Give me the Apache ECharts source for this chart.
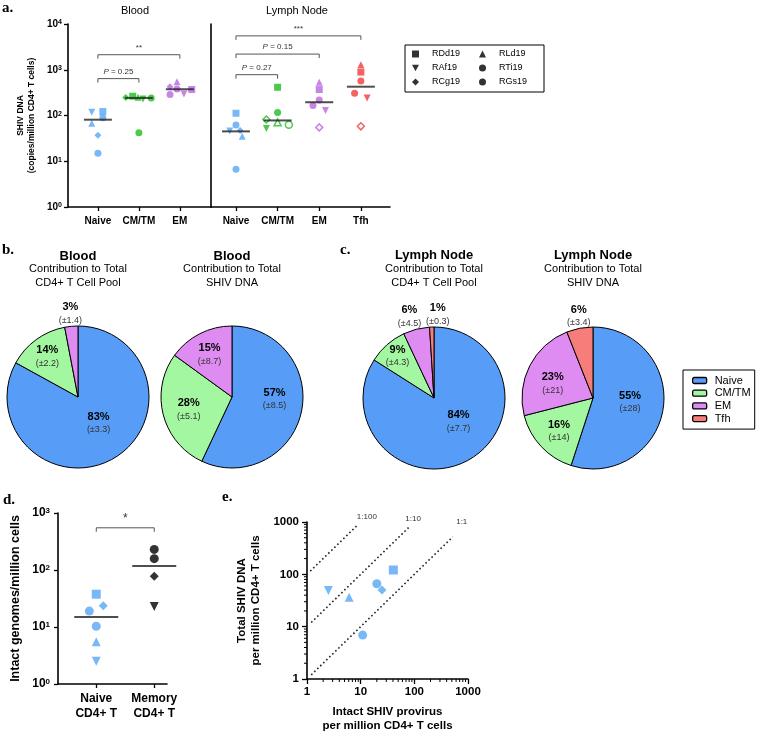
<!DOCTYPE html>
<html>
<head>
<meta charset="utf-8">
<title>SHIV DNA in CD4+ T cell subsets</title>
<script src="https://cdn.jsdelivr.net/npm/echarts@6.0.0/dist/echarts.min.js"></script>
<style>
  html, body { margin: 0; padding: 0; background: #fff; }
  #chart { width: 760px; height: 736px; }
</style>
</head>
<body>
<div id="chart"></div>
<script>
// animals, every per-animal array below follows this order
const animals = ['RDd19', 'RAf19', 'RCg19', 'RLd19', 'RTi19', 'RGs19'];
const animalSymbols = ['rect', 'path://M0,0L10,0L5,9Z', 'diamond', 'triangle', 'circle', 'circle'];

// panel a: SHIV DNA copies / million CD4+ T cells
const bloodCats = ['Naive', 'CM/TM', 'EM'];
const lnCats = ['Naive', 'CM/TM', 'EM', 'Tfh'];
const bloodNaive = [122, 118, 37, 68, 89, 15];
const bloodCmtm = [264, 230, 246, 250, 240, 42];
const bloodEm = [370, 296, 427, 550, 380, 286];
const lnNaive = [112, 46, 47, 35, 62, 6.7];
const lnCmtm = [414, 52, 82, 71, 116, 63];
const lnEm = [369, 129, 55, 530, 219, 166];
const lnTfh = [889, 242, 58, 1290, 570, 305];
const lnCmtmOpen = [0, 0, 1, 1, 0, 1];
const lnEmOpen = [0, 0, 1, 0, 0, 0];
const lnTfhOpen = [0, 0, 1, 0, 0, 0];
const bloodMedian = [81, 242, 375];
const lnMedian = [45, 78, 195, 426];
const bloodBrackets = [[0, 1, 640], [0, 2, 2130]];
const bloodBracketText = ['{i|P} = 0.25', '**'];
const lnBrackets = [[0, 1, 780], [0, 2, 2200], [0, 3, 5500]];
const lnBracketText = ['{i|P} = 0.27', '{i|P} = 0.15', '***'];

// panels b, c: % contribution (mean, sd)
const pieCats = ['Naive', 'CM/TM', 'EM', 'Tfh'];
const bloodPoolPct = [83, 14, 3];
const bloodPoolSd = ['3.3', '2.2', '1.4'];
const bloodDnaPct = [57, 28, 15];
const bloodDnaSd = ['8.5', '5.1', '8.7'];
const lnPoolPct = [84, 9, 6, 1];
const lnPoolSd = ['7.7', '4.3', '4.5', '0.3'];
const lnDnaPct = [55, 16, 23, 6];
const lnDnaSd = ['28', '14', '21', '3.4'];

// panel d: intact genomes / million cells
const intactCats = ['Naive\nCD4+ T', 'Memory\nCD4+ T'];
const intactNaive = [37.6, 2.5, 23.6, 5.5, 19, 10.3];
const intactMemory = [null, 23, 78, null, 230, 158];
const intactMedian = [15, 117];
const intactBrackets = [[0, 1, 550]];
const intactBracketText = ['*'];

// panel e: intact provirus vs total SHIV DNA (naive, lymph node)
const intactProvirus = [40.6, 2.5, 25, 6.1, 20, 10.9];
const totalShivDna = [121, 49, 50, 36.5, 66, 6.9];
const ratioLabels = ['1:100', '1:10', '1:1'];
const ratio100 = [[1.15, 115], [8.5, 850]];
const ratio10 = [[1.2, 12], [80, 800]];
const ratio1 = [[1.2, 1.2], [520, 520]];
const logMinorTicks = [2, 3, 4, 5, 6, 7, 8, 9, 20, 30, 40, 50, 60, 70, 80, 90, 200, 300, 400, 500, 600, 700, 800, 900];

// styling
const sans = 'Arial, "Liberation Sans", Helvetica, sans-serif';
const serif = '"Liberation Serif", "Times New Roman", Times, serif';
const pointColors = ['#58a6f4', '#1fbd1f', '#b967e0', '#f23b3b'];
const sliceColors = ['#579df7', '#a3f7a0', '#df8cf2', '#f77d7a'];
// small jitter of points around each category centre (category units)
const bloodJitter = [
  [0.12, -0.15, 0, -0.15, 0.12, 0],
  [-0.15, 0.1, -0.32, -0.02, 0.3, 0],
  [0.29, 0.1, -0.24, -0.07, -0.07, -0.24]
];
const lnJitter = [
  [0, -0.15, 0.1, 0.15, 0, 0],
  [0, -0.27, -0.27, 0, 0, 0.27],
  [0, 0.15, 0, 0, 0, -0.15],
  [0, 0.15, 0, 0, 0, -0.15]
];
const intactJitter = [[0, 0, 0.12, 0, -0.12, 0], [0, 0, 0, 0, 0, 0]];
const pieShift = {
  bloodPool: [[1, -7], [-8, -9], [-4, -45]],
  bloodDna: [[5, -6], [-6, 3], [-5, -8]],
  lnPool: [[6, -10], [-11, -13], [-15, -44], [5, -45]],
  lnDna: [[-1, -2], [-6, 7], [-6, 3], [-7, -44]]
};
const ratioLabelOffset = [[10, 0], [4, 0], [9, -7]];

const supRich = { s: { fontSize: 7, fontWeight: 'bold', fontFamily: sans, verticalAlign: 'top', lineHeight: 9 } };
const logLabel = v => '10{s|' + Math.round(Math.log10(v)) + '}';

function line(w) { return { show: true, onZero: false, lineStyle: { color: '#000', width: w || 1.6 } }; }
function labelStyle(size, extra) {
  return Object.assign({ color: '#000', fontFamily: sans, fontWeight: 'bold', fontSize: size }, extra || {});
}
function catAxis(grid, cats, min, max, size, margin) {
  const idx = cats.map((c, i) => i);
  return {
    gridIndex: grid, type: 'value', min: min, max: max,
    axisLine: line(), splitLine: { show: false },
    axisTick: { show: true, length: 4, customValues: idx, lineStyle: { color: '#000', width: 1.3 } },
    axisLabel: labelStyle(size, { customValues: idx, margin: margin, lineHeight: size + 3, formatter: v => cats[Math.round(v)] })
  };
}
function logAxis(grid, max, opts) {
  return Object.assign({
    gridIndex: grid, type: 'log', logBase: 10, min: 1, max: max,
    axisLine: line(), splitLine: { show: false },
    axisTick: { show: true, length: 4, lineStyle: { color: '#000', width: 1.3 } }
  }, opts);
}

function pointItem(x, y, color, open) {
  return {
    value: [x, y],
    itemStyle: open ? { color: '#fff', borderColor: color, borderWidth: 1.5 } : { color: color, borderWidth: 0 }
  };
}

const series = [];
animals.forEach((name, i) => {
  const sym = animalSymbols[i];
  const bloodGroups = [bloodNaive, bloodCmtm, bloodEm];
  series.push({
    type: 'scatter', name: name, xAxisIndex: 0, yAxisIndex: 0, symbol: sym, symbolSize: 7, z: 3,
    data: bloodGroups.map((g, c) => pointItem(c + bloodJitter[c][i], g[i], pointColors[c], false))
  });
  const lnGroups = [lnNaive, lnCmtm, lnEm, lnTfh];
  const lnOpen = [[0, 0, 0, 0, 0, 0], lnCmtmOpen, lnEmOpen, lnTfhOpen];
  series.push({
    type: 'scatter', name: name, xAxisIndex: 1, yAxisIndex: 1, symbol: sym, symbolSize: 7, z: 3,
    data: lnGroups.map((g, c) => pointItem(c + lnJitter[c][i], g[i], pointColors[c], lnOpen[c][i]))
  });
  const intactGroups = [intactNaive, intactMemory];
  series.push({
    type: 'scatter', name: name, xAxisIndex: 2, yAxisIndex: 2, symbol: sym, symbolSize: 9, z: 3,
    data: intactGroups.filter(g => g[i] != null).map(g => {
      const c = intactGroups.indexOf(g);
      return pointItem(c + intactJitter[c][i], g[i], c === 0 ? pointColors[0] : '#000', false);
    })
  });
  series.push({
    type: 'scatter', name: name, xAxisIndex: 3, yAxisIndex: 3, symbol: sym, symbolSize: 9, z: 3,
    data: [pointItem(intactProvirus[i], totalShivDna[i], pointColors[0], false)]
  });
});

function medianSeries(grid, vals, width) {
  return {
    type: 'scatter', xAxisIndex: grid, yAxisIndex: grid, symbol: 'rect', symbolSize: [width, 2], z: 4,
    itemStyle: { color: '#222' }, silent: true,
    data: vals.map((m, c) => [c, m])
  };
}
series.push(medianSeries(0, bloodMedian, 28), medianSeries(1, lnMedian, 28), medianSeries(2, intactMedian, 44));

function bracketSeries(grid, rows, texts, size) {
  return {
    type: 'custom', xAxisIndex: grid, yAxisIndex: grid, clip: false, silent: true, z: 5,
    data: rows,
    renderItem: (params, api) => {
      const a = api.coord([api.value(0), api.value(2)]);
      const b = api.coord([api.value(1), api.value(2)]);
      return {
        type: 'group', children: [
          { type: 'polyline', shape: { points: [[a[0], a[1] + 4], [a[0], a[1]], [b[0], b[1]], [b[0], b[1] + 4]] },
            style: { stroke: '#555', lineWidth: 1, fill: null } },
          { type: 'text', style: {
              x: (a[0] + b[0]) / 2, y: a[1] - 3, text: texts[params.dataIndex],
              align: 'center', verticalAlign: 'bottom', textAlign: 'center', textVerticalAlign: 'bottom',
              font: size + 'px ' + sans, fill: '#333',
              rich: { i: { fontStyle: 'italic', fontSize: size, fontFamily: sans, fill: '#333' } } } }
        ]
      };
    }
  };
}
series.push(bracketSeries(0, bloodBrackets, bloodBracketText, 8));
series.push(bracketSeries(1, lnBrackets, lnBracketText, 8));
series.push(bracketSeries(2, intactBrackets, intactBracketText, 12));

// panel e: minor log ticks on both axes
series.push({
  type: 'custom', xAxisIndex: 3, yAxisIndex: 3, clip: false, silent: true, z: 2,
  data: logMinorTicks.map(v => [v, v]),
  renderItem: (params, api) => {
    const v = api.value(0);
    const px = api.coord([v, 1]);
    const py = api.coord([1, v]);
    return {
      type: 'group', children: [
        { type: 'line', shape: { x1: px[0], y1: px[1], x2: px[0], y2: px[1] + 3 }, style: { stroke: '#000', lineWidth: 1 } },
        { type: 'line', shape: { x1: py[0], y1: py[1], x2: py[0] - 3, y2: py[1] }, style: { stroke: '#000', lineWidth: 1 } }
      ]
    };
  }
});

[ratio100, ratio10, ratio1].forEach((pts, k) => {
  series.push({
    type: 'line', xAxisIndex: 3, yAxisIndex: 3, silent: true, z: 1,
    showSymbol: true, symbol: 'circle', symbolSize: 1, itemStyle: { color: 'rgba(0,0,0,0)' },
    lineStyle: { color: '#222', width: 1.6, type: [1.6, 2.6] },
    data: pts.map((p, j) => j === pts.length - 1 ? {
      value: p,
      label: { show: true, position: 'top', distance: 4, offset: ratioLabelOffset[k], formatter: ratioLabels[k],
               fontSize: 8, fontFamily: sans, color: '#333' }
    } : { value: p })
  });
});

function pieSeries(center, pct, sd, shift) {
  return {
    type: 'pie', center: center, radius: 71, startAngle: 90, clockwise: true, silent: true,
    avoidLabelOverlap: false,
    itemStyle: { borderColor: '#000', borderWidth: 1 },
    label: {
      show: true, position: 'inside',
      formatter: p => '{p|' + p.value + '%}\n{e|(±' + sd[p.dataIndex] + ')}',
      rich: {
        p: { fontSize: 11, fontWeight: 'bold', color: '#000', fontFamily: sans, lineHeight: 13, align: 'center' },
        e: { fontSize: 9, color: '#333', fontFamily: sans, lineHeight: 13, align: 'center' }
      }
    },
    labelLine: { show: false },
    labelLayout: p => ({ dx: shift[p.dataIndex][0], dy: shift[p.dataIndex][1] }),
    data: pct.map((v, i) => ({ name: pieCats[i], value: v, itemStyle: { color: sliceColors[i] } }))
  };
}
series.push(pieSeries([78, 397], bloodPoolPct, bloodPoolSd, pieShift.bloodPool));
series.push(pieSeries([232, 397], bloodDnaPct, bloodDnaSd, pieShift.bloodDna));
series.push(pieSeries([434, 398], lnPoolPct, lnPoolSd, pieShift.lnPool));
series.push(pieSeries([593, 398], lnDnaPct, lnDnaSd, pieShift.lnDna));

function txt(x, y, text, size, weight, family, align) {
  return {
    type: 'text', x: x, y: y, silent: true,
    style: { text: text, font: weight + ' ' + size + 'px ' + family, fill: '#000',
             align: align, verticalAlign: 'middle', textAlign: align, textVerticalAlign: 'middle' }
  };
}

const option = {
  animation: false,
  backgroundColor: '#fff',
  textStyle: { fontFamily: sans },
  grid: [
    { left: 68, top: 24, width: 143, height: 183, outerBoundsMode: 'none' },
    { left: 211, top: 24, width: 179, height: 183, outerBoundsMode: 'none' },
    { left: 58, top: 513, width: 109, height: 171, outerBoundsMode: 'none' },
    { left: 307, top: 522, width: 161, height: 157, outerBoundsMode: 'none' }
  ],
  xAxis: [
    catAxis(0, bloodCats, -0.73, 2.76, 10, 8),
    catAxis(1, lnCats, -0.6, 3.7, 10, 8),
    catAxis(2, intactCats, -0.66, 1.22, 12, 7),
    logAxis(3, 1000, {
      axisTick: { show: true, length: 5, lineStyle: { color: '#000', width: 1.3 } },
      axisLabel: labelStyle(11.5, { margin: 7, formatter: v => String(v) }),
      name: 'Intact SHIV provirus\nper million CD4+ T cells', nameLocation: 'middle', nameGap: 26,
      nameTextStyle: labelStyle(11.5, { lineHeight: 14 })
    })
  ],
  yAxis: [
    logAxis(0, 10000, {
      axisLabel: labelStyle(10, { margin: 6, formatter: logLabel, rich: supRich }),
      name: 'SHIV DNA\n(copies/million CD4+ T cells)', nameLocation: 'middle', nameGap: 31,
      nameTextStyle: labelStyle(8.5, { lineHeight: 11 })
    }),
    logAxis(1, 10000, { axisTick: { show: false }, axisLabel: { show: false } }),
    logAxis(2, 1000, {
      axisLabel: labelStyle(12, { margin: 8, formatter: logLabel, rich: { s: Object.assign({}, supRich.s, { fontSize: 8, lineHeight: 10 }) } }),
      name: 'Intact genomes/million cells', nameLocation: 'middle', nameGap: 36,
      nameTextStyle: labelStyle(12.5)
    }),
    logAxis(3, 1000, {
      axisTick: { show: true, length: 5, lineStyle: { color: '#000', width: 1.3 } },
      axisLabel: labelStyle(11.5, { margin: 8, formatter: v => String(v) }),
      name: 'Total SHIV DNA\nper million CD4+ T cells', nameLocation: 'middle', nameGap: 44,
      nameTextStyle: labelStyle(11.5, { lineHeight: 14 })
    })
  ],
  legend: [
    {
      data: animals.map((a, i) => ({ name: a, icon: animalSymbols[i] })),
      left: 405, top: 45, orient: 'vertical', height: 40, selectedMode: false,
      itemWidth: 7, itemHeight: 7, itemGap: 4,
      itemStyle: { color: '#000', borderWidth: 0 },
      textStyle: { fontSize: 9, fontFamily: sans, color: '#000', width: 43, lineHeight: 10, padding: [0, 0, 0, 8] },
      borderColor: '#000', borderWidth: 1, padding: [4, 2, 5, 7]
    },
    {
      data: pieCats, left: 683, top: 370, orient: 'vertical', selectedMode: false,
      itemWidth: 14, itemHeight: 6, itemGap: 1.7,
      itemStyle: { borderColor: '#000', borderWidth: 1.3 },
      textStyle: { fontSize: 11, fontFamily: sans, color: '#000', lineHeight: 11, padding: [0, 0, 0, 3] },
      borderColor: '#000', borderWidth: 1, padding: [5, 4, 5, 9]
    }
  ],
  graphic: [
    txt(2, 8, 'a.', 15, 'bold', serif, 'left'),
    txt(135, 11, 'Blood', 11, 'normal', sans, 'center'),
    txt(297, 11, 'Lymph Node', 11, 'normal', sans, 'center'),
    txt(2, 250, 'b.', 15, 'bold', serif, 'left'),
    txt(78, 256, 'Blood', 13, 'bold', sans, 'center'),
    txt(78, 269, 'Contribution to Total', 11, 'normal', sans, 'center'),
    txt(78, 283, 'CD4+ T Cell Pool', 11, 'normal', sans, 'center'),
    txt(232, 256, 'Blood', 13, 'bold', sans, 'center'),
    txt(232, 269, 'Contribution to Total', 11, 'normal', sans, 'center'),
    txt(232, 283, 'SHIV DNA', 11, 'normal', sans, 'center'),
    txt(340, 250, 'c.', 15, 'bold', serif, 'left'),
    txt(434, 255, 'Lymph Node', 13, 'bold', sans, 'center'),
    txt(434, 269, 'Contribution to Total', 11, 'normal', sans, 'center'),
    txt(434, 283, 'CD4+ T Cell Pool', 11, 'normal', sans, 'center'),
    txt(593, 255, 'Lymph Node', 13, 'bold', sans, 'center'),
    txt(593, 269, 'Contribution to Total', 11, 'normal', sans, 'center'),
    txt(593, 283, 'SHIV DNA', 11, 'normal', sans, 'center'),
    txt(3, 500, 'd.', 15, 'bold', serif, 'left'),
    txt(222, 497, 'e.', 15, 'bold', serif, 'left')
  ],
  series: series
};

const chart = echarts.init(document.getElementById('chart'), null, { renderer: 'canvas' });
chart.setOption(option);
</script>
</body>
</html>
